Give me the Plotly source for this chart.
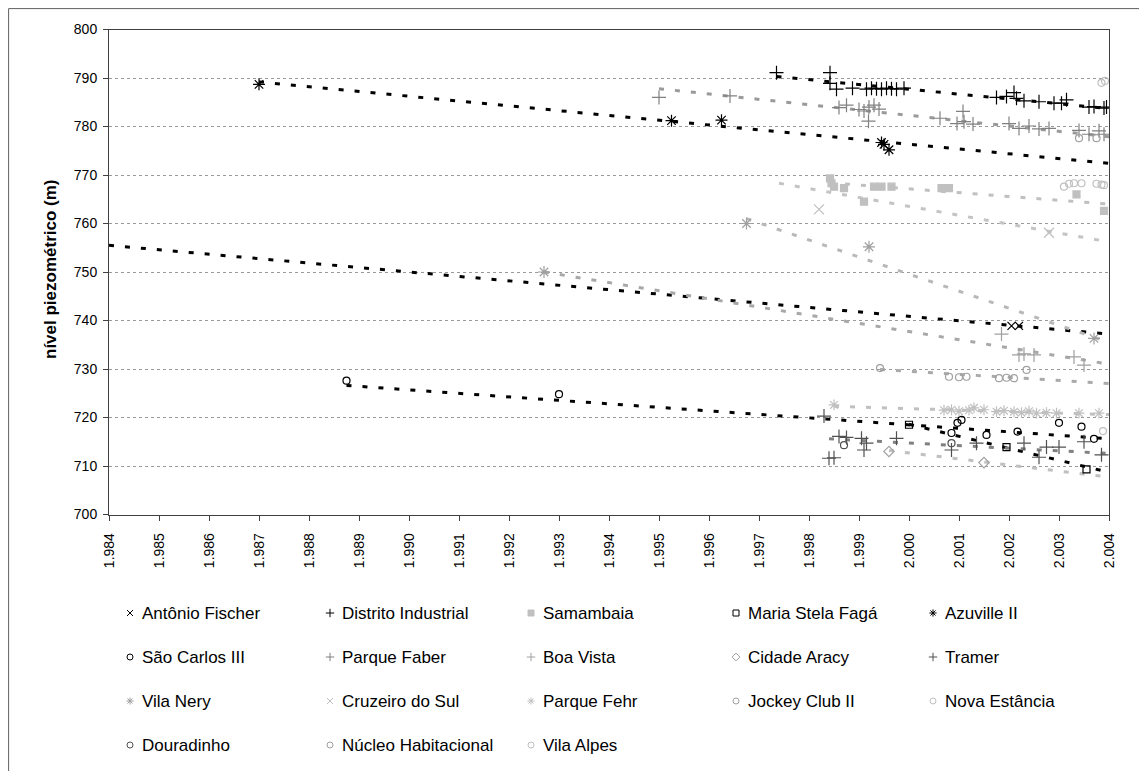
import plotly.graph_objects as go

# page geometry: the browser body adds an 8 px margin, so the figure is drawn at (8, 8)
WIN_W, WIN_H, OFF = 1147, 771, 8
FW, FH = WIN_W - OFF, WIN_H - OFF
# plot area in window pixels
PL, PR, PT, PB = 109, 1109, 29.5, 514.5

# ---------------- data ----------------
years = list(range(1984, 2005))
year_labels = [f"{y // 1000}.{y % 1000:03d}" for y in years]
level_ticks = list(range(700, 801, 10))

series_names = [
    "Antônio Fischer", "Distrito Industrial", "Samambaia", "Maria Stela Fagá", "Azuville II",
    "São Carlos III", "Parque Faber", "Boa Vista", "Cidade Aracy", "Tramer",
    "Vila Nery", "Cruzeiro do Sul", "Parque Fehr", "Jockey Club II", "Nova Estância",
    "Douradinho", "Núcleo Habitacional", "Vila Alpes",
]

antonio_x = [2002.05, 2002.2]
antonio_y = [738.9, 738.9]

distrito_x = [1997.35, 1998.42, 1998.42, 1998.55, 1998.87, 1999.15, 1999.25, 1999.35, 1999.45,
              1999.55, 1999.65, 1999.75, 1999.9, 2001.75, 2001.95, 2002.1, 2002.15, 2002.3,
              2002.6, 2002.9, 2003.05, 2003.15, 2003.6, 2003.7, 2003.9, 2003.95]
distrito_y = [791.1, 791.1, 788.9, 787.7, 787.9, 787.7, 787.9, 787.8, 787.7,
              787.9, 787.8, 787.7, 787.9, 786.0, 786.2, 787.0, 785.8, 785.3,
              785.1, 784.8, 784.8, 785.5, 784.0, 784.1, 783.8, 784.0]

samambaia_x = [1998.42, 1998.45, 1998.5, 1998.7, 1999.1, 1999.3, 1999.45, 1999.65, 2000.65,
               2000.8, 2003.35, 2003.9]
samambaia_y = [769.3, 768.3, 767.6, 767.3, 764.5, 767.6, 767.6, 767.6, 767.3,
               767.3, 766.0, 762.6]

maria_x = [2000.0, 2001.95, 2003.55]
maria_y = [718.5, 713.9, 709.3]

azuville_x = [1987.0, 1995.25, 1996.25, 1999.45, 1999.5, 1999.6]
azuville_y = [788.7, 781.2, 781.3, 776.7, 776.3, 775.2]

saocarlos_x = [1988.75, 1993.0, 2000.85, 2000.97, 2001.05, 2001.55, 2002.17, 2003.0, 2003.45, 2003.7]
saocarlos_y = [727.6, 724.8, 716.8, 718.9, 719.5, 716.4, 717.1, 718.9, 718.1, 715.6]

faber_x = [1995.0, 1996.42, 1998.6, 1998.75, 1999.0, 1999.1, 1999.2, 1999.3, 1999.4, 1999.19,
           2000.62, 2000.96, 2001.08, 2001.1, 2001.28, 2002.0, 2002.2, 2002.4, 2002.6, 2002.8,
           2003.4, 2003.6, 2003.8, 2003.9]
faber_y = [786.0, 786.3, 783.9, 784.4, 783.5, 783.2, 784.0, 784.4, 783.6, 781.1,
           781.7, 780.6, 783.1, 781.0, 780.5, 780.6, 779.6, 780.1, 779.5, 779.6,
           779.2, 778.4, 779.1, 778.4]

boavista_x = [2001.85, 2002.2, 2002.3, 2002.5, 2003.3, 2003.5]
boavista_y = [737.2, 732.9, 733.1, 732.9, 732.5, 730.8]

aracy_x = [1999.6, 2001.5]
aracy_y = [713.0, 710.7]

tramer_x = [1998.3, 1998.4, 1998.5, 1998.6, 1998.75, 1999.05, 1999.15, 1999.1, 1999.75, 2000.85,
            2001.35, 2002.3, 2002.6, 2002.75, 2003.0, 2003.5, 2003.85]
tramer_y = [720.3, 711.6, 711.7, 716.1, 715.9, 715.7, 714.7, 713.3, 715.7, 713.3,
            714.7, 714.7, 711.8, 713.9, 713.9, 715.0, 712.3]

vilanery_x = [1992.7, 1996.75, 1999.2, 2003.7]
vilanery_y = [750.0, 760.0, 755.2, 736.3]

cruzeiro_x = [1998.2, 2002.8]
cruzeiro_y = [762.9, 758.1]

fehr_x = [1998.5, 2000.7, 2000.85, 2001.0, 2001.2, 2001.3, 2001.5, 2001.75, 2001.9, 2002.1,
          2002.25, 2002.4, 2002.55, 2002.75, 2002.95, 2003.4, 2003.8]
fehr_y = [722.6, 721.5, 721.6, 721.3, 721.5, 722.0, 721.6, 721.2, 721.4, 721.2,
          721.0, 721.3, 720.9, 721.0, 720.9, 720.9, 720.9]

jockey_x = [1999.42, 2000.8, 2001.0, 2001.15, 2001.8, 2001.95, 2002.1, 2002.35]
jockey_y = [730.2, 728.4, 728.3, 728.4, 728.1, 728.2, 728.1, 729.8]

novaestancia_x = [2003.1, 2003.2, 2003.3, 2003.45, 2003.75, 2003.85, 2003.9]
novaestancia_y = [767.6, 768.2, 768.3, 768.3, 768.2, 768.0, 767.9]

douradinho_x = [1998.7, 2000.85]
douradinho_y = [714.3, 714.7]

nucleo_x = [2003.4, 2003.75]
nucleo_y = [777.6, 777.6]

vilaalpes_x = [2003.85, 2003.92, 2003.88]
vilaalpes_y = [789.0, 789.4, 717.2]

series_x = [antonio_x, distrito_x, samambaia_x, maria_x, azuville_x, saocarlos_x, faber_x,
            boavista_x, aracy_x, tramer_x, vilanery_x, cruzeiro_x, fehr_x, jockey_x,
            novaestancia_x, douradinho_x, nucleo_x, vilaalpes_x]
series_y = [antonio_y, distrito_y, samambaia_y, maria_y, azuville_y, saocarlos_y, faber_y,
            boavista_y, aracy_y, tramer_y, vilanery_y, cruzeiro_y, fehr_y, jockey_y,
            novaestancia_y, douradinho_y, nucleo_y, vilaalpes_y]

# linear trend lines (start year, start level, end year, end level); None = no trend
trend_x0 = [1984.0, 1997.35, 1998.4, 2000.0, 1987.0, 1988.75, 1995.0, 1992.7, 1999.6, 1998.4,
            1996.75, 1997.4, 1998.5, 1999.42, None, None, None, None]
trend_y0 = [755.5, 790.3, 768.4, 718.6, 789.2, 726.6, 787.8, 750.0, 713.2, 715.6,
            761.0, 768.3, 722.3, 729.9, None, None, None, None]
trend_x1 = [2004.0, 2004.0, 2004.0, 2004.0, 2004.0, 2004.0, 2004.0, 2004.0, 2004.0, 2004.0,
            2004.0, 2004.0, 2004.0, 2004.0, None, None, None, None]
trend_y1 = [737.2, 783.7, 764.0, 708.7, 772.4, 715.6, 777.9, 731.0, 707.7, 712.6,
            735.5, 756.2, 720.6, 727.0, None, None, None, None]

# ---------------- styles ----------------
BLACK, DARK, MID, GRAY, LIGHT = "#000000", "#505050", "#808080", "#a0a0a0", "#c0c0c0"
marker_style = {
    "Antônio Fischer": ("x-thin-open", BLACK, 8),
    "Distrito Industrial": ("cross-thin-open", BLACK, 10),
    "Samambaia": ("square", LIGHT, 7),
    "Maria Stela Fagá": ("square-open", BLACK, 7),
    "Azuville II": ("asterisk-open", BLACK, 10),
    "São Carlos III": ("circle-open", BLACK, 7),
    "Parque Faber": ("cross-thin-open", MID, 10),
    "Boa Vista": ("cross-thin-open", GRAY, 10),
    "Cidade Aracy": ("diamond-open", GRAY, 8),
    "Tramer": ("cross-thin-open", DARK, 10),
    "Vila Nery": ("asterisk-open", GRAY, 10),
    "Cruzeiro do Sul": ("x-thin-open", LIGHT, 10),
    "Parque Fehr": ("asterisk-open", LIGHT, 9),
    "Jockey Club II": ("circle-open", GRAY, 7),
    "Nova Estância": ("circle-open", LIGHT, 7),
    "Douradinho": ("circle-open", DARK, 7),
    "Núcleo Habitacional": ("circle-open", GRAY, 7),
    "Vila Alpes": ("circle-open", LIGHT, 7),
}
trend_color = {
    "Antônio Fischer": "#000000", "Distrito Industrial": "#000000", "Samambaia": "#c0c0c0",
    "Maria Stela Fagá": "#000000", "Azuville II": "#000000", "São Carlos III": "#000000",
    "Parque Faber": "#9a9a9a", "Boa Vista": "#a8a8a8", "Cidade Aracy": "#c0c0c0",
    "Tramer": "#808080", "Vila Nery": "#b8b8b8", "Cruzeiro do Sul": "#c4c4c4",
    "Parque Fehr": "#c0c0c0", "Jockey Club II": "#aaaaaa",
}
legend_col_px = [130, 330, 531, 736, 933]
legend_row_px = [613, 657, 701, 745]
FONT = "Liberation Sans, Arial, sans-serif"

fig = go.Figure()

# trend lines
for i, name in enumerate(series_names):
    if trend_x0[i] is None:
        continue
    fig.add_trace(go.Scatter(
        x=[trend_x0[i], trend_x1[i]], y=[trend_y0[i], trend_y1[i]], mode="lines",
        line=dict(color=trend_color[name], width=3, dash="5px,11px"),
        showlegend=False, hoverinfo="skip"))

# data points
for i, name in enumerate(series_names):
    sym, col, size = marker_style[name]
    fig.add_trace(go.Scatter(
        x=series_x[i], y=series_y[i], mode="markers", name=name,
        marker=dict(symbol=sym, color=col, size=size, line=dict(color=col, width=1.2)),
        showlegend=False))

# legend (manual, laid out in a 5-column grid)
leg_x, leg_y, leg_sym, leg_col = [], [], [], []
for i, name in enumerate(series_names):
    r, c = divmod(i, 5)
    sym, col, size = marker_style[name]
    leg_x.append(legend_col_px[c])
    leg_y.append(legend_row_px[r])
    leg_sym.append(sym)
    leg_col.append(col)
    fig.add_annotation(x=legend_col_px[c] + 10, y=legend_row_px[r], xref="x2", yref="y2",
                       text=name, showarrow=False, xanchor="left", yanchor="middle",
                       font=dict(family=FONT, size=17, color="#000000"))
fig.add_trace(go.Scatter(
    x=leg_x, y=leg_y, xaxis="x2", yaxis="y2", mode="markers", showlegend=False, hoverinfo="skip",
    marker=dict(symbol=leg_sym, color=leg_col, size=6, line=dict(color=leg_col, width=1))))

# y-axis title
fig.add_annotation(x=50, y=270, xref="x2", yref="y2", text="<b>nível piezométrico (m)</b>",
                   textangle=-90, showarrow=False, xanchor="center", yanchor="middle",
                   font=dict(family=FONT, size=17, color="#000000"))

tick_font = dict(family=FONT, size=14, color="#000000")
fig.update_layout(
    width=FW, height=FH,
    margin=dict(l=0, r=0, t=0, b=0, pad=0),
    paper_bgcolor="white", plot_bgcolor="rgba(0,0,0,0)",
    showlegend=False,
    xaxis=dict(
        domain=[(PL - OFF) / FW, (PR - OFF) / FW], range=[1984, 2004], automargin=False,
        tickmode="array", tickvals=years, ticktext=year_labels, tickangle=-90,
        ticks="outside", ticklen=5, tickcolor="#404040", tickfont=tick_font,
        showgrid=False, zeroline=False, showline=True, linecolor="#404040", linewidth=1,
        mirror=True, ticklabelstandoff=7,
    ),
    yaxis=dict(
        domain=[1 - (PB - OFF) / FH, 1 - (PT - OFF) / FH], range=[700, 800], automargin=False,
        tickmode="array", tickvals=level_ticks,
        ticks="outside", ticklen=5, tickcolor="#404040", tickfont=tick_font,
        showgrid=True, gridcolor="#9a9a9a", gridwidth=1, griddash="3px,3px",
        zeroline=False, showline=True, linecolor="#404040", linewidth=1, mirror=True,
        ticklabelstandoff=3,
    ),
    xaxis2=dict(domain=[0, 1], range=[OFF, OFF + FW], visible=False, fixedrange=True, anchor="y2"),
    yaxis2=dict(domain=[0, 1], range=[OFF + FH, OFF], visible=False, fixedrange=True, anchor="x2"),
    shapes=[dict(type="rect", xref="paper", yref="paper", x0=0.6 / FW, x1=1.05, y0=-0.05, y1=1 - 0.6 / FH,
                 line=dict(color="#606060", width=1), fillcolor="rgba(0,0,0,0)", layer="below")],
)

fig.write_html("out.html")
